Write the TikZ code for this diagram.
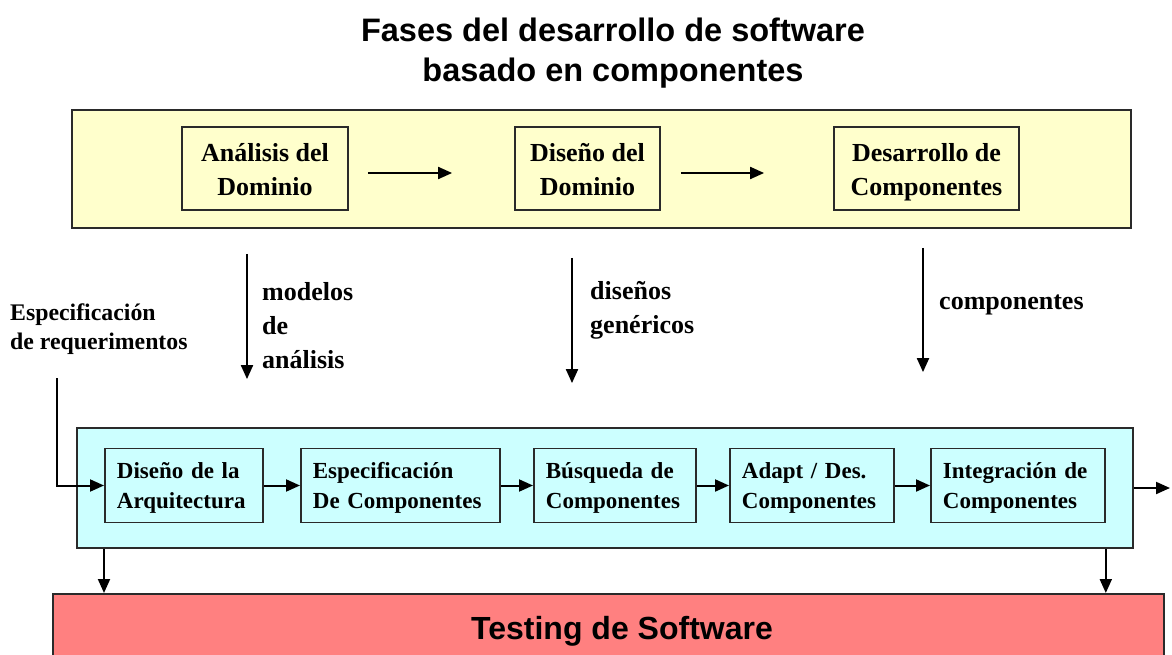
\documentclass[tikz,border=0pt]{standalone}
\usepackage{fontspec}
\setmainfont{Liberation Serif}
\newfontfamily\titlefont{Liberation Sans}
\usetikzlibrary{arrows.meta,calc}
\definecolor{ylw}{HTML}{FFFFCC}
\definecolor{cyn}{HTML}{CCFFFF}
\definecolor{rd}{HTML}{FF8080}
\definecolor{edgec}{HTML}{2A2A2A}
\newcommand{\tophi}{\rule{0pt}{27pt}}
\newcommand{\toplo}{\rule[-7pt]{0pt}{7pt}}
\newcommand{\bothi}{\rule{0pt}{22pt}}
\newcommand{\botlo}{\rule[-7pt]{0pt}{7pt}}
\begin{document}
\begin{tikzpicture}[x=1pt,y=-1pt,
  frame/.style={draw=edgec,line width=1.8pt,inner sep=0pt},
  topbox/.style={draw=edgec,line width=1.8pt,fill=ylw,align=center,
    font=\bfseries\fontsize{26}{34}\selectfont,inner sep=0pt,minimum height=83pt},
  botbox/.style={draw=edgec,line width=1.8pt,fill=cyn,align=left,
    font=\bfseries\fontsize{23}{30}\selectfont,inner xsep=12pt,inner ysep=0pt,
    minimum height=74pt,anchor=west},
  lbl/.style={font=\bfseries\fontsize{26}{34}\selectfont,align=left,inner sep=0pt,anchor=west},
  arr/.style={draw=black,line width=2pt,-{Triangle[length=14pt,width=12pt]}},
]
\clip (0,0) rectangle (1172,655);
\fill[white] (0,0) rectangle (1172,655);

% title
\node[font=\titlefont\bfseries\fontsize{32.5}{40}\selectfont,align=center] (title) at (613,53)
  {Fases del desarrollo de software\\basado en componentes};

% yellow phase
\node[frame,fill=ylw,minimum width=1059pt,minimum height=118pt] (Y) at (601.5,169) {};
\node[topbox,minimum width=166pt] (A) at (265,168.5) {\tophi Análisis del\\Dominio\toplo};
\node[topbox,minimum width=145pt] (B) at (587.5,168.5) {\tophi Diseño del\\Dominio\toplo};
\node[topbox,minimum width=185pt] (C) at (926.5,168.5) {\tophi Desarrollo de\\Componentes\toplo};
\draw[arr,shorten <=19pt,shorten >=62pt] ([yshift=-4.5pt]A.east) -- ([yshift=-4.5pt]B.west);
\draw[arr,shorten <=20pt,shorten >=69pt] ([yshift=-4.5pt]B.east) -- ([yshift=-4.5pt]C.west);

% blue phase
\node[frame,fill=cyn,minimum width=1056pt,minimum height=120pt] (Bl) at (605,488) {};
\node[botbox,text width=134pt] (D1) at (104,485.5) {\bothi Diseño de la\\Arquitectura\botlo};
\node[botbox,text width=175pt] (D2) at (300,485.5) {\bothi Especificación\\De Componentes\botlo};
\node[botbox,text width=138pt] (D3) at (533,485.5) {\bothi Búsqueda de\\Componentes\botlo};
\node[botbox,text width=140pt] (D4) at (729,485.5) {\bothi Adapt / Des.\\Componentes\botlo};
\node[botbox,text width=150pt] (D5) at (930,485.5) {\bothi Integración de\\Componentes\botlo};
\draw[arr] (D1.east) -- (D2.west);
\draw[arr] (D2.east) -- (D3.west);
\draw[arr] (D3.east) -- (D4.west);
\draw[arr] (D4.east) -- (D5.west);
\coordinate (out) at (1170,488);
\draw[arr] (Bl.east) -- (out);

% vertical flows
\coordinate (v1) at (247,0);
\coordinate (v2) at (572,0);
\coordinate (v3) at (923,0);
\draw[arr,shorten <=25pt,shorten >=48pt] (Y.south -| v1) -- (Bl.north -| v1);
\draw[arr,shorten <=29pt,shorten >=44pt] (Y.south -| v2) -- (Bl.north -| v2);
\draw[arr,shorten <=19pt,shorten >=55pt] (Y.south -| v3) -- (Bl.north -| v3);
\node[lbl] (l1) at (262,326) {modelos\\de\\análisis};
\node[lbl] (l2) at (590,310) {diseños\\genéricos};
\node[lbl] (l3) at (939,305) {componentes};

% requirements input
\node[lbl,font=\bfseries\fontsize{23.8}{29}\selectfont] (req) at (10,329)
  {Especificación\\de requerimentos};
\coordinate (rq) at (57,378);
\draw[arr] (rq) |- (D1.west);

% testing
\node[frame,fill=rd,minimum width=1111pt,minimum height=100pt,anchor=north west] (T) at (52,593) {};
\node[font=\titlefont\bfseries\fontsize{32}{38}\selectfont] (Tl) at (622,631) {Testing de Software};
\draw[arr] (Bl.south -| D1.west) -- (T.north -| D1.west);
\draw[arr] (Bl.south -| D5.east) -- (T.north -| D5.east);
\end{tikzpicture}
\end{document}
